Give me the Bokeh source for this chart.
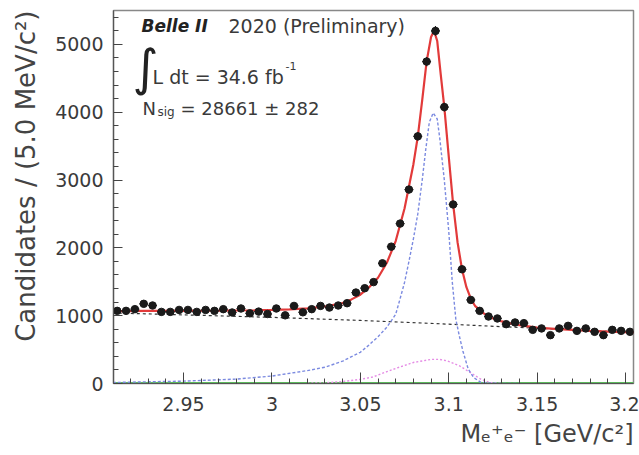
import numpy as np
from bokeh.plotting import figure
from bokeh.models import Label, FixedTicker, Range1d, Title
from bokeh.embed import file_html
from bokeh.resources import INLINE

# ---------------- data ----------------
bin_centers = [2.9125, 2.9175, 2.9225, 2.9275, 2.9325, 2.9375, 2.9425, 2.9475, 2.9525, 2.9575,
               2.9625, 2.9675, 2.9725, 2.9775, 2.9825, 2.9875, 2.9925, 2.9975, 3.0025, 3.0075,
               3.0125, 3.0175, 3.0225, 3.0275, 3.0325, 3.0375, 3.0425, 3.0475, 3.0525, 3.0575,
               3.0625, 3.0675, 3.0725, 3.0775, 3.0825, 3.0875, 3.0925, 3.0975, 3.1025, 3.1075,
               3.1125, 3.1175, 3.1225, 3.1275, 3.1325, 3.1375, 3.1425, 3.1475, 3.1525, 3.1575,
               3.1625, 3.1675, 3.1725, 3.1775, 3.1825, 3.1875, 3.1925, 3.1975, 3.2025]
counts = [1071, 1071, 1096, 1175, 1150, 1056, 1056, 1085, 1085, 1056,
          1085, 1071, 1096, 1047, 1106, 1035, 1060, 1025, 1106, 1005,
          1144, 1050, 1096, 1144, 1120, 1150, 1184, 1341, 1405, 1495,
          1772, 2018, 2358, 2860, 3644, 4747, 5199, 4076, 2640, 1684,
          1232, 1071, 988, 959, 875, 900, 890, 791, 812, 713,
          812, 850, 776, 812, 762, 713, 791, 776, 762]
bin_half_width = 0.0025

# total fit (red)
fit_x = [2.91, 2.93, 2.95, 2.97, 2.99, 3.00, 3.01, 3.02, 3.03, 3.04, 3.045, 3.05, 3.055, 3.06,
         3.065, 3.07, 3.075, 3.08, 3.0825, 3.085, 3.0875, 3.09, 3.0917, 3.0935, 3.0955, 3.0975,
         3.10, 3.1025, 3.105, 3.1075, 3.11, 3.1125, 3.115, 3.12, 3.125, 3.13, 3.14, 3.15, 3.16,
         3.17, 3.18, 3.19, 3.205]
fit_y = [1068, 1070, 1072, 1075, 1080, 1085, 1093, 1108, 1135, 1185, 1240, 1310, 1420, 1560,
         1780, 2100, 2580, 3230, 3640, 4180, 4750, 5110, 5200, 5050, 4550, 4076,
         3350, 2640, 2080, 1684, 1420, 1250, 1140, 1030, 960, 915, 860, 825, 805,
         790, 775, 765, 752]

# signal component (blue dashed)
sig_x = [2.91, 2.95, 2.98, 3.00, 3.02, 3.03, 3.04, 3.05, 3.055, 3.06, 3.065, 3.07,
         3.0725, 3.075, 3.0775, 3.08, 3.0825, 3.085, 3.087, 3.089, 3.0912, 3.0935, 3.095,
         3.0975, 3.10, 3.102, 3.104, 3.106, 3.108, 3.111, 3.114, 3.118, 3.125, 3.14]
sig_y = [15, 35, 65, 110, 190, 240, 330, 460, 570, 690, 830, 1020,
         1250, 1490, 1800, 2130, 2500, 3000, 3450, 3850, 3990, 3900, 3600,
         3000, 2250, 1500, 950, 700, 480, 213, 90, 20, 3, 0]

# background component (black dashed)
bkg_x = [2.91, 2.96, 3.00, 3.05, 3.10, 3.12, 3.15, 3.18, 3.205]
bkg_y = [1040, 1005, 975, 930, 875, 850, 815, 780, 752]

# second peaking component (magenta dotted)
oth_x = [3.02, 3.03, 3.04, 3.05, 3.057, 3.065, 3.072, 3.08, 3.09, 3.095, 3.099, 3.106,
         3.112, 3.118, 3.123, 3.13]
oth_y = [5, 10, 30, 60, 95, 175, 240, 310, 355, 355, 335, 262, 165, 66, 15, 0]

# flat component near zero (green)
flat_x = [2.91, 3.205]
flat_y = [12, 12]

xtick_values = [2.95, 3.0, 3.05, 3.1, 3.15, 3.2]
xtick_labels = ["2.95", "3", "3.05", "3.1", "3.15", "3.2"]
xminor_values = [2.92, 2.93, 2.94, 2.96, 2.97, 2.98, 2.99, 3.01, 3.02, 3.03, 3.04, 3.06,
                 3.07, 3.08, 3.09, 3.11, 3.12, 3.13, 3.14, 3.16, 3.17, 3.18, 3.19]
ytick_values = [0, 1000, 2000, 3000, 4000, 5000]
ytick_labels = ["0", "1000", "2000", "3000", "4000", "5000"]
yminor_values = [200, 400, 600, 800, 1200, 1400, 1600, 1800, 2200, 2400, 2600, 2800,
                 3200, 3400, 3600, 3800, 4200, 4400, 4600, 4800, 5200, 5400]

# ---------------- figure ----------------
FONT = "DejaVu Sans"
TXT = "#3a3a3a"

p = figure(width=639, height=455, output_backend="svg", toolbar_location=None,
           x_range=Range1d(2.9104, 3.2045), y_range=Range1d(0, 5500),
           min_border_left=113, min_border_right=6, min_border_top=10, min_border_bottom=71)
p.grid.visible = False
p.outline_line_color = "#888888"
p.outline_line_width = 1.5
p.background_fill_color = "white"
p.border_fill_color = "white"

xa = p.xaxis[0]
xa.ticker = FixedTicker(ticks=xtick_values, minor_ticks=xminor_values)
xa.major_label_overrides = dict(zip(xtick_values, xtick_labels))
ya = p.yaxis[0]
ya.ticker = FixedTicker(ticks=ytick_values, minor_ticks=yminor_values)
ya.major_label_overrides = dict(zip(ytick_values, ytick_labels))
for ax, tin in ((xa, 11), (ya, 9)):
    ax.major_tick_in = tin
    ax.major_tick_out = 0
    ax.minor_tick_in = 5
    ax.minor_tick_out = 0
    ax.axis_line_color = "#555555"
    ax.axis_line_width = 1.2
    ax.major_tick_line_color = "#444444"
    ax.minor_tick_line_color = "#444444"
    ax.major_label_text_font = FONT
    ax.major_label_text_font_size = "19px"
    ax.major_label_text_color = TXT
xa.major_label_standoff = 13
ya.major_label_standoff = 10

# axis titles as side titles
ytitle = Title(text="Candidates / (5.0 MeV/c\u00b2)", align="right", vertical_align="top",
               standoff=20, text_font=FONT, text_font_size="26px", text_font_style="normal",
               text_color="#444444")
p.add_layout(ytitle, "left")
xtitle = Title(text="M\u2091\u207a\u2091\u207b [GeV/c\u00b2]", align="right", vertical_align="top",
               standoff=12, text_font=FONT, text_font_size="24px", text_font_style="normal",
               text_color="#444444")
p.add_layout(xtitle, "below")

# components
p.line(bkg_x, bkg_y, line_color="#333333", line_dash="3 3", line_width=1.2)
p.line(flat_x, flat_y, line_color="#5cb85c", line_width=1.3)
p.line(oth_x, oth_y, line_color="#e58ce5", line_dash="2 2", line_width=1.4)
p.line(sig_x, sig_y, line_color="#7b8ae0", line_dash="3 2", line_width=1.4)
p.line(fit_x, fit_y, line_color="#e23a3a", line_width=2.2)

# data with errors
cx = np.array(bin_centers)
cy = np.array(counts, dtype=float)
err = np.sqrt(cy)
p.segment(cx, cy - err, cx, cy + err, line_color="#1a1a1a", line_width=1.2)
p.segment(cx - bin_half_width, cy, cx + bin_half_width, cy, line_color="#1a1a1a", line_width=1.2)
p.scatter(cx, cy, marker="circle", size=7.5, fill_color="#1a1a1a", line_color="#1a1a1a")

# ---------------- texts (screen units relative to the frame) ----------------
def lab(x, y, text, size, **kw):
    opts = dict(x=x, y=y, x_units="screen", y_units="screen", text=text,
                text_font=FONT, text_font_size=size, text_color=TXT,
                text_baseline="alphabetic", text_align="left")
    opts.update(kw)
    p.add_layout(Label(**opts))

lab(28, 358, "Belle II", "17px", text_font_style="bold italic", text_color="#222222")
lab(115, 358, "2020 (Preliminary)", "19px")
lab(19, 316, "\u222b", "50px", text_color="#222222")
lab(39, 307, "L dt = 34.6 fb", "19px")
lab(172, 318, "-1", "11px")
lab(29, 275, "N", "18px")
lab(44, 272, "sig", "12px")
lab(67, 275, "= 28661 \u00b1 282", "18px")

open("out.html", "w").write(file_html(p, INLINE))
